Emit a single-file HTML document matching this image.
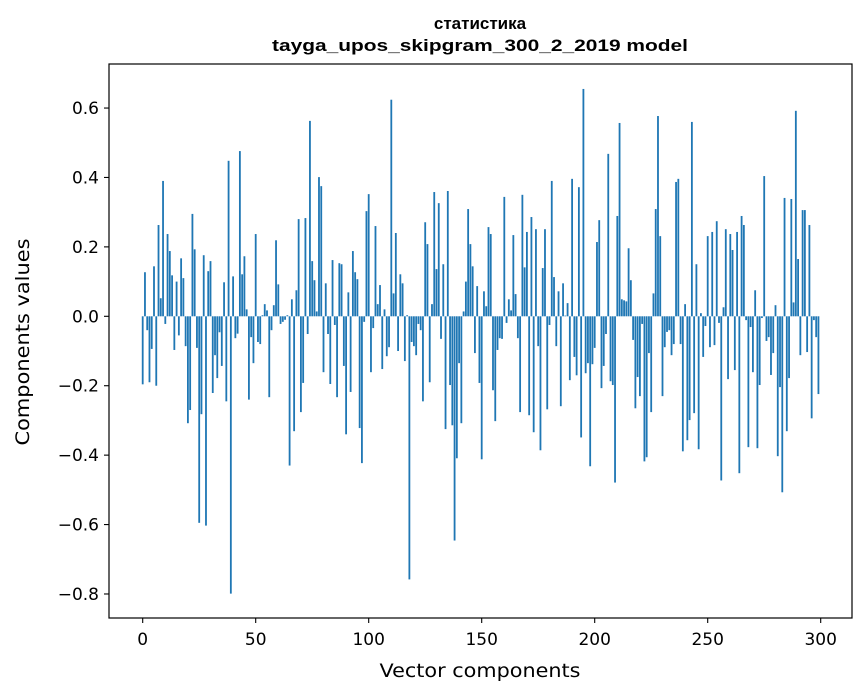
<!DOCTYPE html>
<html><head><meta charset="utf-8"><style>
html,body{margin:0;padding:0;background:#fff;}
svg{display:block;}
text{font-family:"DejaVu Sans","Liberation Sans",sans-serif;fill:#000;}
</style></head><body>
<svg id="chart" width="867" height="696" viewBox="0 0 867 696" xmlns="http://www.w3.org/2000/svg">
<rect x="0" y="0" width="867" height="696" fill="#fff"/>
<text x="480" y="29" text-anchor="middle" font-size="17" font-weight="bold" style="font-family:'Liberation Sans',sans-serif">статистика</text>
<text x="480" y="51" text-anchor="middle" font-size="17" font-weight="bold" textLength="416" lengthAdjust="spacingAndGlyphs" style="font-family:'Liberation Sans',sans-serif">tayga_upos_skipgram_300_2_2019 model</text>
<g id="bars"></g>
<g id="xticks"></g>
<g id="yticks"></g>
<rect x="109" y="64" width="743" height="554" fill="none" stroke="#000" stroke-width="1.2"/>
<text x="480" y="677" text-anchor="middle" font-size="19" textLength="201" lengthAdjust="spacingAndGlyphs">Vector components</text>
<text transform="translate(29,342) rotate(-90)" text-anchor="middle" font-size="19" textLength="207" lengthAdjust="spacingAndGlyphs">Components values</text>
</svg>
<script>
const xTickValues = [0, 50, 100, 150, 200, 250, 300];
const yTickValues = [-0.8, -0.6, -0.4, -0.2, 0.0, 0.2, 0.4, 0.6];
const yTickLabels = ["\u22120.8", "\u22120.6", "\u22120.4", "\u22120.2", "0.0", "0.2", "0.4", "0.6"];
const componentValues = [
-0.196,0.127,-0.04,-0.19,-0.094,0.144,-0.2,0.263,0.052,0.39,
-0.022,0.237,0.188,0.118,-0.097,0.10,-0.055,0.167,0.11,-0.086,
-0.308,-0.27,0.295,0.193,-0.091,-0.595,-0.282,0.176,-0.603,0.13,
0.159,-0.221,-0.112,-0.178,-0.046,-0.143,0.098,-0.245,0.448,-0.799,
0.115,-0.063,-0.05,0.476,0.121,0.173,0.02,-0.24,-0.06,-0.135,
0.237,-0.074,-0.08,0.003,0.035,0.017,-0.233,-0.04,0.032,0.219,
0.092,-0.022,-0.016,-0.01,0.003,-0.43,0.049,-0.331,0.075,0.28,
-0.276,-0.192,0.283,-0.051,0.563,0.159,0.104,0.014,0.401,0.375,
-0.161,0.095,-0.051,-0.195,0.162,-0.025,-0.233,0.153,0.15,-0.143,
-0.34,0.069,-0.218,0.188,0.127,0.107,-0.322,-0.423,-0.016,0.303,
0.352,-0.161,-0.034,0.26,0.035,0.09,-0.152,0.02,-0.115,-0.089,
0.624,0.066,0.24,-0.1,0.121,0.095,-0.129,0.003,-0.758,-0.074,
-0.086,-0.112,-0.022,-0.04,-0.245,0.271,0.208,-0.19,0.035,0.358,
0.136,0.326,-0.065,0.15,-0.325,0.361,-0.198,-0.314,-0.646,-0.409,
-0.135,-0.308,0.014,0.10,0.309,0.208,0.144,-0.106,0.087,-0.192,
-0.412,0.072,0.029,0.257,0.237,-0.213,-0.302,-0.097,-0.063,-0.065,
0.344,-0.019,0.049,0.017,0.234,0.064,-0.063,-0.276,0.35,0.141,
0.243,-0.285,0.286,-0.334,0.251,-0.086,-0.386,0.139,0.251,-0.268,
-0.025,0.39,0.113,-0.086,0.072,-0.259,0.095,0.002,0.038,-0.184,
0.396,-0.117,-0.17,0.372,-0.349,0.655,-0.164,-0.135,-0.432,-0.138,
-0.091,0.214,0.277,-0.207,-0.143,-0.051,0.468,-0.187,-0.198,-0.479,
0.289,0.557,0.049,0.046,0.043,0.196,0.104,-0.068,-0.265,-0.175,
-0.23,-0.022,-0.418,-0.406,-0.106,-0.276,0.066,0.309,0.577,0.231,
-0.23,-0.089,-0.045,-0.04,-0.112,-0.08,0.387,0.396,-0.08,-0.389,
0.035,-0.357,-0.299,0.56,-0.279,0.15,-0.383,0.009,-0.117,-0.028,
0.231,-0.089,0.243,-0.083,0.274,-0.019,-0.473,0.026,0.251,-0.181,
0.237,0.191,-0.155,0.243,-0.452,0.289,0.263,-0.011,-0.377,-0.031,
-0.161,0.075,-0.38,-0.198,-0.005,0.404,-0.071,-0.06,-0.169,-0.106,
0.032,-0.403,-0.204,-0.507,0.341,-0.331,-0.178,0.338,0.04,0.592,
0.165,-0.112,0.306,0.306,-0.103,0.263,-0.294,-0.011,-0.06,-0.224
];
const NS = "http://www.w3.org/2000/svg";
function xScale(v){ return 142.7 + 2.26 * v; }
function yScale(v){ return 316.3 - 347.1 * v; }
const barsG = document.getElementById('bars');
componentValues.forEach(function(v, i){
  const r = document.createElementNS(NS, 'rect');
  const y0 = yScale(0), y1 = yScale(v);
  r.setAttribute('x', xScale(i - 0.4));
  r.setAttribute('width', 2.26 * 0.8);
  r.setAttribute('y', Math.min(y0, y1));
  r.setAttribute('height', Math.max(Math.abs(y1 - y0), 0.01));
  r.setAttribute('fill', '#1f77b4');
  
  
  barsG.appendChild(r);
});
const xg = document.getElementById('xticks');
xTickValues.forEach(function(v){
  const x = xScale(v);
  const l = document.createElementNS(NS, 'line');
  l.setAttribute('x1', x); l.setAttribute('x2', x);
  l.setAttribute('y1', 618); l.setAttribute('y2', 623);
  l.setAttribute('stroke', '#000'); l.setAttribute('stroke-width', '1.1');
  
  
  xg.appendChild(l);
  const t = document.createElementNS(NS, 'text');
  t.setAttribute('x', x); t.setAttribute('y', 645);
  t.setAttribute('text-anchor', 'middle'); t.setAttribute('font-size', '17');
  t.textContent = String(v);
  
  
  xg.appendChild(t);
});
const yg = document.getElementById('yticks');
yTickValues.forEach(function(v, k){
  const y = yScale(v);
  const l = document.createElementNS(NS, 'line');
  l.setAttribute('x1', 104); l.setAttribute('x2', 109);
  l.setAttribute('y1', y); l.setAttribute('y2', y);
  l.setAttribute('stroke', '#000'); l.setAttribute('stroke-width', '1.1');
  
  
  yg.appendChild(l);
  const t = document.createElementNS(NS, 'text');
  t.setAttribute('x', 99); t.setAttribute('y', y + 6);
  t.setAttribute('text-anchor', 'end'); t.setAttribute('font-size', '17');
  t.textContent = yTickLabels[k];
  
  
  yg.appendChild(t);
});
</script>
</body></html>
